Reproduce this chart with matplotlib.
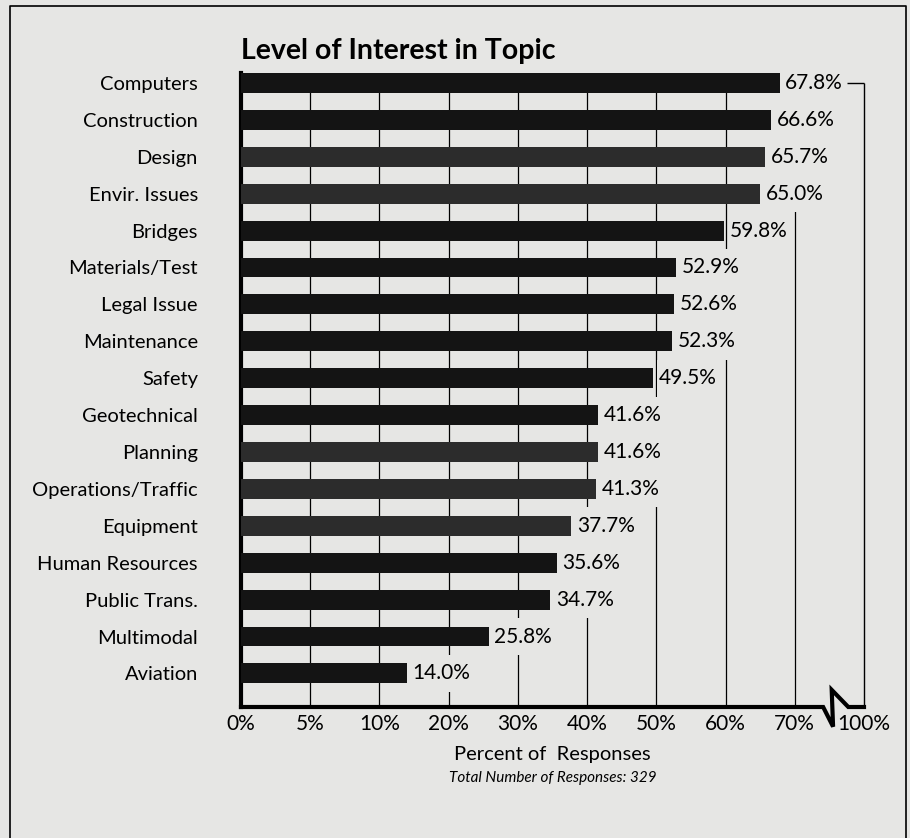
import numpy as np
import matplotlib
matplotlib.use("Agg")
from matplotlib import pyplot as plt
from matplotlib.lines import Line2D
import matplotlib.transforms as mtransforms

topics = ["Computers", "Construction", "Design", "Envir. Issues", "Bridges",
          "Materials/Test", "Legal Issue", "Maintenance", "Safety",
          "Geotechnical", "Planning", "Operations/Traffic", "Equipment",
          "Human Resources", "Public Trans.", "Multimodal", "Aviation"]
percent = [67.8, 66.6, 65.7, 65.0, 59.8, 52.9, 52.6, 52.3, 49.5,
           41.6, 41.6, 41.3, 37.7, 35.6, 34.7, 25.8, 14.0]
# scanned print: some bars came out a little lighter
bar_shade = ["#141414", "#141414", "#2c2c2c", "#2c2c2c", "#141414",
             "#141414", "#141414", "#141414", "#141414",
             "#141414", "#2c2c2c", "#2c2c2c", "#2c2c2c",
             "#141414", "#141414", "#141414", "#141414"]
tick_values = [0, 5, 10, 20, 30, 40, 50, 60, 70, 100]
tick_labels = ["0%", "5%", "10%", "20%", "30%", "40%", "50%", "60%", "70%", "100%"]

bg = "#e6e6e4"
font = "Lato"
plt.rcParams['font.family'] = [font, 'DejaVu Sans']

knots = np.array(tick_values, dtype=float)
idx = np.arange(len(knots), dtype=float)


def forward(x):
    return np.interp(x, knots, idx)


def inverse(i):
    return np.interp(i, idx, knots)


fig = plt.figure(figsize=(9.1, 8.38), dpi=100, facecolor=bg)
ax = fig.add_axes([241 / 910, 1 - 707 / 838, 623 / 910, 634 / 838])
ax.set_facecolor(bg)
ax.set_xscale('function', functions=(forward, inverse))

rows = np.arange(len(topics))
ax.set_xlim(0, 100)
ax.set_ylim(16.91, -0.27)

# grid lines (hidden later behind bars and label boxes)
for v in tick_values[1:-1]:
    ax.axvline(v, color="black", lw=0.9, zorder=1)
ax.vlines(100, 0, 16.91, color="black", lw=1.0, zorder=1, clip_on=False)

ax.barh(rows, percent, height=0.54, color=bar_shade, zorder=3)

labels = []
for r, v in zip(rows, percent):
    t = ax.annotate(f"{v:.1f}%", (v, r), xytext=(4, 0), textcoords="offset points",
                    ha="left", va="center", fontsize=15, zorder=4)
    labels.append(t)

# label boxes cover the grid across the whole row
fig.canvas.draw()
inv = ax.transData.inverted()
for r, t in zip(rows, labels):
    bb = t.get_window_extent()
    x0 = inv.transform((bb.x0 - 1, 0))[0]
    x1 = inv.transform((bb.x1 + 1, 0))[0]
    ax.barh(r, x1 - x0, left=x0, height=1.0, color=bg, zorder=2)
    if r == 0:
        ax.hlines(0, inv.transform((bb.x1 + 4, 0))[0], 100, color="black", lw=1.0,
                  zorder=1, clip_on=False)

ax.set_yticks(rows, topics, fontsize=14.5)
ax.set_xticks(tick_values, tick_labels, fontsize=15)
ax.tick_params(axis="y", length=0, pad=31)
ax.tick_params(axis="x", length=0, pad=5)
ax.xaxis.set_minor_locator(matplotlib.ticker.NullLocator())

for s in ["top", "right", "bottom"]:
    ax.spines[s].set_visible(False)
ax.spines["left"].set_linewidth(3)

# bottom axis with the break between 70% and 100%
tr = mtransforms.blended_transform_factory(ax.transData, ax.transAxes)
ax.add_line(Line2D([0, 82.3, 86.6, 86.0, 93.2, 100], [0, 0, -0.031, 0.027, 0, 0],
                   transform=tr, color="black", lw=3, clip_on=False,
                   solid_joinstyle="miter", zorder=5))

ax.text(0, 1.022, "Level of Interest in Topic", transform=ax.transAxes,
        fontsize=20.5, fontweight="bold", va="baseline", ha="left")
ax.text(0.5, -0.0757, "Percent of  Responses", transform=ax.transAxes,
        fontsize=14.5, ha="center", va="center")
ax.text(0.5, -0.112, "Total Number of Responses: 329", transform=ax.transAxes,
        fontsize=11, style="italic", ha="center", va="center")

# page frame
fig.add_artist(Line2D([10 / 910, 10 / 910, 906 / 910, 906 / 910],
                      [0, 1 - 6 / 838, 1 - 6 / 838, 0],
                      transform=fig.transFigure, color="black", lw=1.2))

fig.savefig("out.png", dpi=100, facecolor=bg)
